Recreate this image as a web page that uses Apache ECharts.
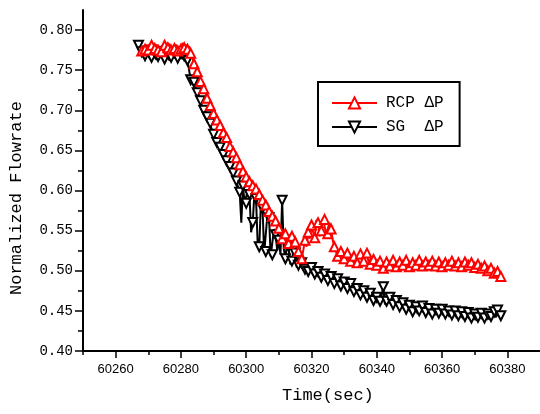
<!DOCTYPE html>
<html>
<head>
<meta charset="utf-8">
<script src="https://cdn.jsdelivr.net/npm/echarts@6/dist/echarts.min.js"></script>
<style>html,body{margin:0;padding:0;background:#fff}#c{width:540px;height:414px}</style>
</head>
<body>
<div id="c"></div>
<script>
// ---- data ----
const xTickLabels = [60260, 60280, 60300, 60320, 60340, 60360, 60380];
const yTickLabels = [0.40, 0.45, 0.50, 0.55, 0.60, 0.65, 0.70, 0.75, 0.80];
const seriesNames = ['RCP ΔP', 'SG  ΔP'];

const rcpTime = [60268,60268.5,60269,60269.5,60270,60270.5,60271,60271.5,60272,60272.5,60273,60273.5,60274,60274.5,60275,60275.5,60276,60276.5,60277,60277.5,60278,60278.5,60279,60279.5,60280,60280.5,60281,60281.5,60282,60282.5,60283,60283.5,60284,60284.5,60285,60285.5,60286,60286.5,60287,60287.5,60288,60288.5,60289,60289.5,60290,60290.5,60291,60291.5,60292,60292.5,60293,60293.5,60294,60294.5,60295,60295.5,60296,60296.5,60297,60297.5,60298,60298.5,60299,60299.5,60300,60300.5,60301,60301.5,60302,60302.5,60303,60303.5,60304,60304.5,60305,60305.5,60306,60306.5,60307,60307.5,60308,60308.5,60309,60309.5,60310,60310.5,60311,60311.5,60312,60312.5,60313,60313.5,60314,60314.5,60315,60315.5,60316,60316.5,60317,60317.5,60318,60318.5,60319,60319.5,60320,60320.5,60321,60321.5,60322,60322.5,60323,60323.5,60324,60324.5,60325,60325.5,60326,60326.5,60327,60327.5,60328,60328.5,60329,60329.5,60330,60330.5,60331,60331.5,60332,60332.5,60333,60333.5,60334,60334.5,60335,60335.5,60336,60336.5,60337,60337.5,60338,60338.5,60339,60339.5,60340,60340.5,60341,60341.5,60342,60342.5,60343,60343.5,60344,60344.5,60345,60345.5,60346,60346.5,60347,60347.5,60348,60348.5,60349,60349.5,60350,60350.5,60351,60351.5,60352,60352.5,60353,60353.5,60354,60354.5,60355,60355.5,60356,60356.5,60357,60357.5,60358,60358.5,60359,60359.5,60360,60360.5,60361,60361.5,60362,60362.5,60363,60363.5,60364,60364.5,60365,60365.5,60366,60366.5,60367,60367.5,60368,60368.5,60369,60369.5,60370,60370.5,60371,60371.5,60372,60372.5,60373,60373.5,60374,60374.5,60375,60375.5,60376,60376.5,60377,60377.5,60378];
const rcpFlow = [0.774,0.780,0.776,0.782,0.775,0.779,0.781,0.774,0.777,0.782,0.775,0.780,0.773,0.779,0.781,0.776,0.778,0.783,0.775,0.780,0.777,0.782,0.774,0.780,0.776,0.784,0.778,0.782,0.776,0.780,0.771,0.766,0.758,0.754,0.748,0.744,0.736,0.733,0.727,0.722,0.715,0.712,0.706,0.700,0.696,0.693,0.688,0.683,0.681,0.676,0.672,0.670,0.666,0.660,0.655,0.652,0.648,0.644,0.641,0.636,0.632,0.629,0.624,0.620,0.617,0.614,0.611,0.607,0.606,0.603,0.602,0.598,0.595,0.591,0.588,0.585,0.582,0.578,0.574,0.571,0.568,0.565,0.562,0.558,0.553,0.546,0.540,0.550,0.546,0.536,0.534,0.545,0.543,0.533,0.536,0.528,0.524,0.520,0.515,0.526,0.538,0.530,0.548,0.540,0.557,0.548,0.541,0.563,0.560,0.543,0.550,0.566,0.564,0.545,0.546,0.560,0.552,0.538,0.530,0.524,0.518,0.526,0.524,0.514,0.515,0.524,0.522,0.512,0.512,0.520,0.518,0.509,0.510,0.516,0.521,0.511,0.512,0.518,0.522,0.510,0.508,0.516,0.514,0.506,0.507,0.514,0.512,0.505,0.503,0.512,0.511,0.504,0.506,0.513,0.513,0.505,0.505,0.512,0.511,0.504,0.507,0.514,0.513,0.506,0.505,0.511,0.510,0.503,0.507,0.514,0.513,0.506,0.506,0.512,0.511,0.504,0.507,0.513,0.512,0.505,0.506,0.512,0.511,0.504,0.505,0.512,0.510,0.504,0.507,0.513,0.512,0.505,0.506,0.511,0.510,0.503,0.505,0.512,0.511,0.504,0.507,0.511,0.510,0.502,0.504,0.510,0.508,0.501,0.503,0.508,0.506,0.499,0.500,0.505,0.503,0.496,0.497,0.502,0.499,0.492,0.493];

const sgTime = [60267,60267.5,60268,60268.5,60269,60269.5,60270,60270.5,60271,60271.5,60272,60272.5,60273,60273.5,60274,60274.5,60275,60275.5,60276,60276.5,60277,60277.5,60278,60278.5,60279,60279.5,60280,60280.5,60281,60281.5,60282,60282.5,60283,60283.5,60284,60284.5,60285,60285.5,60286,60286.5,60287,60287.5,60288,60288.5,60289,60289.5,60290,60290.5,60291,60291.5,60292,60292.5,60293,60293.5,60294,60294.5,60295,60295.5,60296,60296.5,60297,60297.5,60298,60298.5,60299,60299.5,60300,60300.5,60301,60301.5,60302,60302.5,60303,60303.5,60304,60304.5,60305,60305.5,60306,60306.5,60307,60307.5,60308,60308.5,60309,60309.5,60310,60310.5,60311,60311.5,60312,60312.5,60313,60313.5,60314,60314.5,60315,60315.5,60316,60316.5,60317,60317.5,60318,60318.5,60319,60319.5,60320,60320.5,60321,60321.5,60322,60322.5,60323,60323.5,60324,60324.5,60325,60325.5,60326,60326.5,60327,60327.5,60328,60328.5,60329,60329.5,60330,60330.5,60331,60331.5,60332,60332.5,60333,60333.5,60334,60334.5,60335,60335.5,60336,60336.5,60337,60337.5,60338,60338.5,60339,60339.5,60340,60340.5,60341,60341.5,60342,60342.5,60343,60343.5,60344,60344.5,60345,60345.5,60346,60346.5,60347,60347.5,60348,60348.5,60349,60349.5,60350,60350.5,60351,60351.5,60352,60352.5,60353,60353.5,60354,60354.5,60355,60355.5,60356,60356.5,60357,60357.5,60358,60358.5,60359,60359.5,60360,60360.5,60361,60361.5,60362,60362.5,60363,60363.5,60364,60364.5,60365,60365.5,60366,60366.5,60367,60367.5,60368,60368.5,60369,60369.5,60370,60370.5,60371,60371.5,60372,60372.5,60373,60373.5,60374,60374.5,60375,60375.5,60376,60376.5,60377,60377.5,60378];
const sgFlow = [0.781,0.770,0.773,0.766,0.768,0.775,0.774,0.764,0.766,0.772,0.772,0.763,0.767,0.774,0.773,0.765,0.764,0.771,0.771,0.762,0.766,0.773,0.772,0.765,0.765,0.770,0.771,0.764,0.768,0.773,0.762,0.750,0.738,0.741,0.735,0.728,0.722,0.718,0.712,0.704,0.700,0.697,0.692,0.686,0.684,0.676,0.670,0.665,0.660,0.657,0.654,0.648,0.645,0.640,0.637,0.632,0.630,0.625,0.622,0.616,0.612,0.604,0.598,0.560,0.606,0.585,0.584,0.600,0.595,0.548,0.560,0.596,0.590,0.535,0.530,0.585,0.578,0.522,0.524,0.570,0.566,0.518,0.520,0.552,0.545,0.525,0.538,0.520,0.588,0.528,0.515,0.534,0.530,0.508,0.512,0.526,0.522,0.504,0.507,0.515,0.510,0.500,0.502,0.509,0.499,0.505,0.504,0.495,0.496,0.502,0.499,0.491,0.492,0.500,0.496,0.487,0.488,0.497,0.493,0.484,0.484,0.492,0.490,0.480,0.481,0.489,0.486,0.477,0.478,0.488,0.484,0.474,0.474,0.482,0.478,0.470,0.470,0.477,0.475,0.466,0.467,0.474,0.472,0.463,0.463,0.470,0.467,0.460,0.462,0.470,0.480,0.458,0.462,0.468,0.467,0.457,0.458,0.466,0.463,0.454,0.455,0.463,0.460,0.451,0.452,0.460,0.457,0.448,0.449,0.458,0.455,0.446,0.450,0.457,0.456,0.447,0.448,0.455,0.453,0.444,0.446,0.454,0.452,0.445,0.447,0.453,0.452,0.444,0.446,0.454,0.450,0.442,0.445,0.452,0.450,0.441,0.444,0.451,0.449,0.440,0.443,0.450,0.448,0.439,0.441,0.449,0.446,0.438,0.442,0.450,0.447,0.440,0.441,0.449,0.446,0.439,0.443,0.451,0.449,0.442,0.451,0.446,0.444];

// ---- chart ----
// markers on every other sample, plain line points in between
const toItems = (t, v) => t.map((x, i) => (i % 2 === 0 ? [x, v[i]] : { value: [x, v[i]], symbol: 'none' }));
const xMinor = xTickLabels.map(v => v - 10);
const yMinor = yTickLabels.slice(0, -1).map(v => +(v + 0.025).toFixed(3));

const MONO = '"Liberation Mono", "DejaVu Sans Mono", monospace';
const SANS = '"Liberation Sans", Arial, sans-serif';
const axisLineStyle = { color: '#000', width: 2 };

const chart = echarts.init(document.getElementById('c'), null, { renderer: 'canvas' });
chart.setOption({
  animation: false,
  backgroundColor: '#fff',
  grid: { left: 83, top: 10, right: -3, bottom: 63, containLabel: false },
  xAxis: [
    {
      type: 'value', min: 60250, max: 60390,
      axisLine: { show: true, onZero: false, lineStyle: axisLineStyle },
      axisTick: { show: true, inside: false, length: 7, lineStyle: { color: '#000', width: 1.5 }, customValues: xTickLabels },
      axisLabel: { customValues: xTickLabels, margin: 12, color: '#000', fontFamily: SANS, fontSize: 13,
        formatter: v => String(v) },
      splitLine: { show: false }
    },
    {
      type: 'value', min: 60250, max: 60390, position: 'bottom',
      axisLine: { show: false },
      axisTick: { show: true, inside: false, length: 4, lineStyle: { color: '#000', width: 1.5 }, customValues: xMinor },
      axisLabel: { show: false },
      splitLine: { show: false }
    }
  ],
  yAxis: [
    {
      type: 'value', min: 0.40, max: 0.825,
      axisLine: { show: true, onZero: false, lineStyle: axisLineStyle },
      axisTick: { show: true, inside: false, length: 8, lineStyle: { color: '#000', width: 1.5 }, customValues: yTickLabels },
      axisLabel: { customValues: yTickLabels, margin: 10, color: '#000', fontFamily: MONO, fontSize: 14,
        formatter: v => v.toFixed(2) },
      splitLine: { show: false }
    },
    {
      type: 'value', min: 0.40, max: 0.825, position: 'left',
      axisLine: { show: false },
      axisTick: { show: true, inside: false, length: 5, lineStyle: { color: '#000', width: 1.5 }, customValues: yMinor },
      axisLabel: { show: false },
      splitLine: { show: false }
    }
  ],
  legend: {
    orient: 'vertical', left: 318, top: 82,
    data: seriesNames,
    itemWidth: 45, itemHeight: 14, itemGap: 8, padding: [13, 16, 11, 13],
    borderColor: '#000', borderWidth: 2, borderRadius: 0,
    textStyle: { color: '#000', fontFamily: MONO, fontSize: 16, padding: [0, 0, 0, 4] }
  },
  graphic: [
    { type: 'text', left: 282, top: 387,
      style: { text: 'Time(sec)', font: '17px ' + MONO, fill: '#000' } },
    { type: 'text', x: 8, y: 295, rotation: Math.PI / 2,
      style: { text: 'Normalized Flowrate', font: '17px ' + MONO, fill: '#000' } }
  ],
  series: [
    {
      name: seriesNames[1], type: 'line', data: toItems(sgTime, sgFlow),
      xAxisIndex: 0, yAxisIndex: 0,
      symbol: 'triangle', symbolRotate: 180, symbolSize: 9, showAllSymbol: true,
      lineStyle: { color: '#000', width: 2 },
      itemStyle: { color: '#fff', borderColor: '#000', borderWidth: 2 },
      emphasis: { disabled: true }
    },
    {
      name: seriesNames[0], type: 'line', data: toItems(rcpTime, rcpFlow),
      xAxisIndex: 0, yAxisIndex: 0,
      symbol: 'triangle', symbolSize: 9, showAllSymbol: true,
      lineStyle: { color: '#ff0000', width: 2 },
      itemStyle: { color: '#fff', borderColor: '#ff0000', borderWidth: 2 },
      emphasis: { disabled: true }
    }
  ]
});
</script>
</body>
</html>
